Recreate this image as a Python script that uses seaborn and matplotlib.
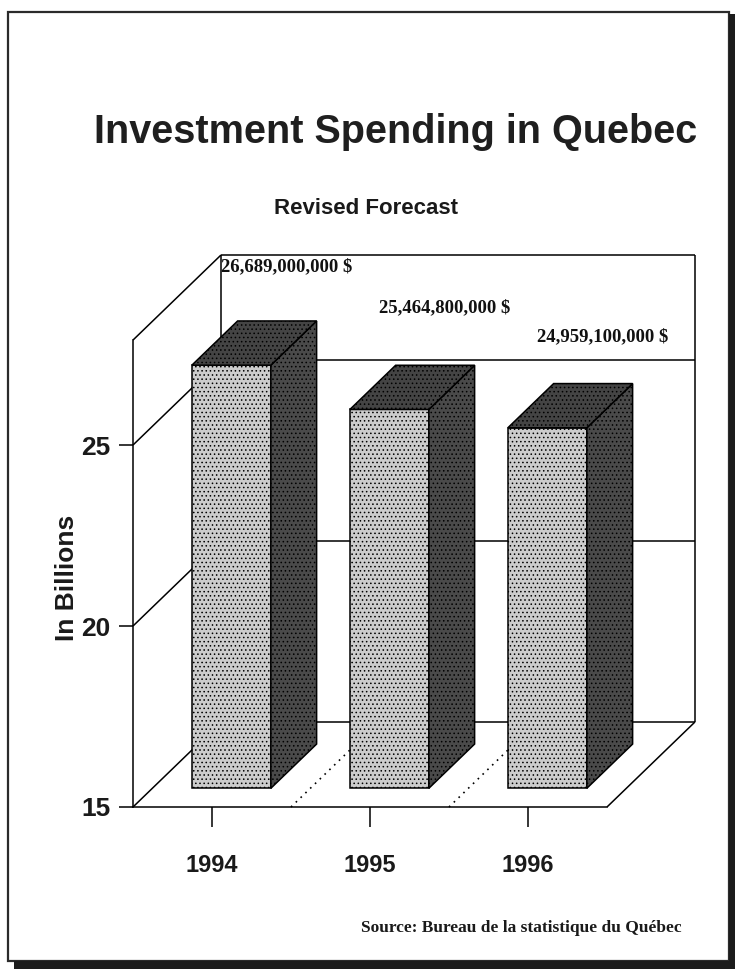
import matplotlib
matplotlib.use("Agg")
import matplotlib.pyplot as plt
import seaborn as sns
import pandas as pd
from matplotlib.patches import Polygon, Rectangle

# ---------------- data ----------------
years = ["1994", "1995", "1996"]
spending_billions = [26.689, 25.4648, 24.9591]
y_ticks = [15, 20, 25]

title_text = "Investment Spending in Quebec"
subtitle_text = "Revised Forecast"
y_label = "In Billions"
source_text = "Source: Bureau de la statistique du Québec"

# ---------------- style / layout ----------------
sns.set_theme(style="white")
plt.rcParams["font.family"] = ["Liberation Sans", "DejaVu Sans"]
plt.rcParams["hatch.linewidth"] = 0.6
SERIF = ["Liberation Serif", "DejaVu Serif"]

W, H = 735, 969
fig = plt.figure(figsize=(W / 100, H / 100), dpi=100)
fig.patch.set_facecolor("white")

def fx(px):
    return px / W

def fy(py):
    return 1 - py / H

Y0, YTOP = 15, 27.9          # front frame floor / top value
DX, DY = 0.557, 2.35         # full depth offset (x units, value units)
XMIN, XMAX = -0.5, 2.5
D0, DB = 0.22, 0.52          # bar start depth and bar depth (fractions of full depth)
LW = 1.1

ax_left = 133
ax_right = ax_left + (XMAX + DX - XMIN) * 158
ax_bottom, ax_top = 807, 255
ax = fig.add_axes([fx(ax_left), fy(ax_bottom), (ax_right - ax_left) / W, (ax_bottom - ax_top) / H])
ax.set_facecolor("none")

df = pd.DataFrame({"year": years, "value": spending_billions})
sns.barplot(data=df, x="year", y="value", width=0.5, color="#cccccc", saturation=1,
            edgecolor="black", linewidth=LW, hatch="....", ax=ax, zorder=5)

ax.set_xlim(XMIN, XMAX + DX)
ax.set_ylim(Y0, YTOP + DY)

# --- 3D frame lines ---
def seg(p0, p1, **kw):
    style = dict(color="black", lw=LW, zorder=2, clip_on=False, solid_capstyle="butt")
    style.update(kw)
    ax.plot([p0[0], p1[0]], [p0[1], p1[1]], **style)

for v in [Y0] + y_ticks[1:] + [YTOP]:
    seg((XMIN, v), (XMIN + DX, v + DY))
seg((XMIN + DX, Y0 + DY), (XMIN + DX, YTOP + DY))
seg((XMAX + DX, Y0 + DY), (XMAX + DX, YTOP + DY))
for v in [Y0] + y_ticks[1:] + [YTOP]:
    seg((XMIN + DX, v + DY), (XMAX + DX, v + DY))
seg((XMAX, Y0), (XMAX + DX, Y0 + DY))
for b in [0.5, 1.5]:
    seg((b, Y0), (b + DX, Y0 + DY), linestyle=(0, (1, 3)), lw=1.2)

# --- turn seaborn bars into 3D boxes ---
bars = list(ax.patches)
for p in bars:
    h = p.get_height()
    w = p.get_width()
    x0 = p.get_x() + D0 * DX
    base = Y0 + D0 * DY
    top = h + D0 * DY
    p.set_x(x0)
    p.set_y(base)
    p.set_height(h - Y0)
    ddx, ddy = DB * DX, DB * DY
    side = Polygon([(x0 + w, base), (x0 + w + ddx, base + ddy), (x0 + w + ddx, top + ddy), (x0 + w, top)],
                   closed=True, fc="#4a4a4a", ec="black", lw=LW, hatch="....", zorder=5)
    topf = Polygon([(x0, top), (x0 + ddx, top + ddy), (x0 + w + ddx, top + ddy), (x0 + w, top)],
                   closed=True, fc="#444444", ec="black", lw=LW, hatch="....", zorder=5)
    ax.add_patch(side)
    ax.add_patch(topf)

# --- value labels ---
label_y = [29.81, 28.67, 27.87]
for i, (v, ly) in enumerate(zip(spending_billions, label_y)):
    ax.text(i + 0.06, ly, f"{v * 1e9:,.0f} $", family=SERIF, fontweight="bold", fontsize=13.5,
            ha="left", va="baseline", clip_on=False, zorder=6, color="#111111")

# --- axes / ticks ---
for s in ["top", "right"]:
    ax.spines[s].set_visible(False)
ax.spines["left"].set_bounds(Y0, YTOP)
ax.spines["bottom"].set_bounds(XMIN, XMAX)
for s in ["left", "bottom"]:
    ax.spines[s].set_color("black")
    ax.spines[s].set_linewidth(LW)
ax.set_yticks(y_ticks)
ax.set_xlabel("")
ax.set_ylabel("")
ax.tick_params(axis="y", left=True, length=10, width=LW, pad=6, labelsize=19, colors="black")
ax.tick_params(axis="x", bottom=True, length=14.5, width=LW, pad=19, labelsize=17, colors="black")
for lbl in ax.get_xticklabels() + ax.get_yticklabels():
    lbl.set_fontweight("bold")
    lbl.set_color("#1a1a1a")

# --- texts ---
fig.text(fx(396), fy(143), title_text, ha="center", va="baseline", fontsize=28.5,
         fontweight="bold", color="#1f1f1f")
fig.text(fx(366), fy(214), subtitle_text, ha="center", va="baseline", fontsize=16,
         fontweight="bold", color="#1a1a1a")
fig.text(fx(67), fy(578), y_label, rotation=90, ha="center", va="center", fontsize=19,
         fontweight="bold", color="#1a1a1a")
fig.text(fx(682), fy(932), source_text, ha="right", va="baseline", family=SERIF, fontsize=12.5,
         fontweight="bold", color="#1a1a1a")

# --- page frame with shadow ---
fig.add_artist(Rectangle((fx(8), fy(961)), (729 - 8) / W, (961 - 12) / H, transform=fig.transFigure,
                         fill=False, ec="#2b2b2b", lw=1.6))
fig.add_artist(Rectangle((fx(729), 0), 1 - fx(729), fy(14), transform=fig.transFigure,
                         fc="#1c1c1c", ec="none"))
fig.add_artist(Rectangle((fx(14), 0), 1 - fx(14), fy(961), transform=fig.transFigure,
                         fc="#1c1c1c", ec="none"))

fig.savefig("out.png", dpi=100, facecolor="white")
